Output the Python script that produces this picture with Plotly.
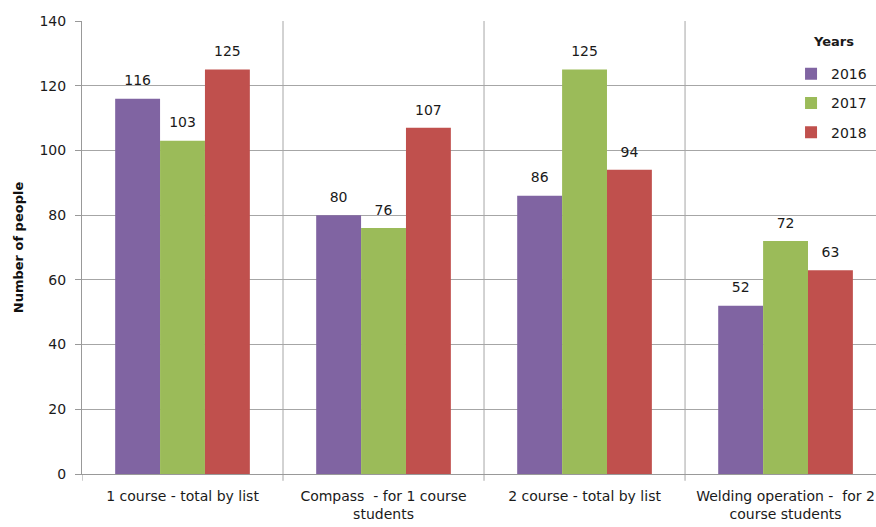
import plotly.graph_objects as go

categories = ["1 course - total by list", "Compass  - for 1 course<br>students",
              "2 course - total by list", "Welding operation -  for 2<br>course students"]
years = ["2016", "2017", "2018"]
v2016 = [116, 80, 86, 52]
v2017 = [103, 76, 125, 72]
v2018 = [125, 107, 94, 63]
colors = ["#8064A2", "#9BBB59", "#C0504D"]

font = "DejaVu Sans"
txt = "#1a1a1a"
xs = list(range(len(categories)))
fig = go.Figure()
for i, (name, vals) in enumerate(zip(years, [v2016, v2017, v2018])):
    fig.add_trace(go.Bar(
        x=xs, y=vals, name=name,
        marker=dict(color=colors[i], line=dict(width=0)),
        legendgroup=name, hoverinfo="x+y+name",
    ))
for i, (name, vals) in enumerate(zip(years, [v2016, v2017, v2018])):
    fig.add_trace(go.Scatter(
        x=xs, y=vals, mode="markers+text", text=[str(v) for v in vals],
        textposition="top center", textfont=dict(family=font, size=14, color=txt),
        marker=dict(size=14, opacity=0), showlegend=False, hoverinfo="skip",
        cliponaxis=False,
    ))

fig.update_layout(
    width=876, height=527,
    margin=dict(l=82, r=0, t=21, b=53),
    paper_bgcolor="white", plot_bgcolor="white",
    barmode="group", bargap=0.33, bargroupgap=0,
    scattermode="group", scattergap=0.33,
    font=dict(family=font, size=14, color=txt),
    showlegend=True,
    legend=dict(
        x=0.893, y=0.918, xanchor="left", yanchor="top",
        bgcolor="rgba(0,0,0,0)", font=dict(family=font, size=14, color=txt),
        traceorder="grouped", tracegroupgap=8, itemwidth=30,
    ),
    annotations=[dict(text="<b>Years</b>", xref="paper", yref="paper", x=0.946, y=0.955,
                      xanchor="center", yanchor="middle", showarrow=False,
                      font=dict(family=font, size=13, color=txt))],
    xaxis=dict(
        tickmode="array", tickvals=xs, ticktext=categories,
        range=[-0.5, 3.45], showline=True, linecolor="#999", linewidth=1,
        showgrid=False, ticks="outside", ticklen=9, tickcolor="rgba(0,0,0,0)",
        tickfont=dict(family=font, size=14, color=txt),
        zeroline=False,
    ),
    yaxis=dict(
        range=[0, 140], dtick=20, showgrid=True, gridcolor="#A6A6A6", gridwidth=1,
        showline=True, linecolor="#999", linewidth=1, ticks="outside", ticklen=6,
        tickcolor="#999", tickfont=dict(family=font, size=14, color=txt),
        ticklabelstandoff=6,
        title=dict(text="<b>Number of people</b>", font=dict(family=font, size=13, color="#111"), standoff=12),
        zeroline=False,
    ),
)

# category boundary lines and tick marks
for b in [0.5, 1.5, 2.5]:
    fig.add_shape(type="line", xref="x", yref="paper", x0=b, x1=b, y0=-0.015, y1=1,
                  line=dict(color="#A6A6A6", width=1), layer="below")
fig.add_shape(type="line", xref="x", yref="paper", x0=-0.5, x1=-0.5, y0=-0.015, y1=0,
              line=dict(color="#999", width=1))

fig.write_html("out.html")
